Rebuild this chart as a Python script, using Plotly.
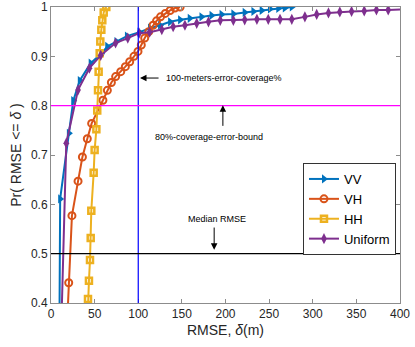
import plotly.graph_objects as go

# CDF curves (RMSE in metres vs probability)
vv_x = [9.5, 10.5, 20.5, 25.5, 33, 45.5, 57.5, 64.5, 75, 87, 101.5, 113.5, 125, 136.5, 148,
        159, 172.5, 184, 195.5, 209, 222, 232, 241.5, 251, 260.5, 268, 276]
vv_y = [0.3, 0.611, 0.744, 0.81, 0.851, 0.886, 0.905, 0.92, 0.93, 0.941, 0.949, 0.957, 0.963,
        0.97, 0.974, 0.977, 0.98, 0.983, 0.985, 0.986, 0.989, 0.991, 0.993, 0.996, 0.997, 0.998, 1.0]

vh_x = [17, 20.3, 24, 31, 36, 41.6, 46.6, 59.5, 64.6, 69.2, 74.1, 79.9, 85.2, 90.2, 95.1,
        99.7, 103.5, 107.4, 112, 117, 121, 125.5, 131, 136.5, 142, 148]
vh_y = [0.3, 0.441, 0.577, 0.647, 0.696, 0.733, 0.764, 0.811, 0.831, 0.847, 0.859, 0.869, 0.879,
        0.889, 0.9, 0.91, 0.923, 0.937, 0.95, 0.963, 0.972, 0.98, 0.987, 0.993, 0.998, 1.0]

hh_x = [41.5, 42.4, 43.5, 44.7, 45.5, 46.2, 48.9, 50, 52, 53, 53.9, 54.6, 55.8, 56.5, 57.7,
        58.8, 60.4, 63.4]
hh_y = [0.35, 0.408, 0.445, 0.487, 0.532, 0.587, 0.664, 0.71, 0.752, 0.79, 0.831, 0.869, 0.906,
        0.93, 0.954, 0.973, 0.989, 1.0]

uni_x = [11, 17.5, 31, 44, 57, 74, 88, 101, 113, 127, 140, 153.5, 167, 180.5, 194, 209, 222,
         236, 249, 262.5, 276, 291, 304.5, 318, 331, 344.5, 359, 373, 386.5, 413.5]
uni_y = [0.3, 0.724, 0.832, 0.876, 0.902, 0.927, 0.937, 0.947, 0.949, 0.954, 0.96, 0.963, 0.967,
         0.97, 0.973, 0.973, 0.974, 0.975, 0.975, 0.975, 0.975, 0.98, 0.985, 0.988, 0.99, 0.991,
         0.992, 0.994, 0.994, 0.996]

coverage_x = 100
bound_y = 0.8
median_y = 0.5

FONT = "Liberation Sans, Arial, sans-serif"
TXT = "#262626"

fig = go.Figure()
fig.add_trace(go.Scatter(x=vv_x, y=vv_y, name="VV", mode="lines+markers",
                         line=dict(color="#0072BD", width=2),
                         marker=dict(symbol="triangle-right", size=8, color="#0072BD")))
fig.add_trace(go.Scatter(x=vh_x, y=vh_y, name="VH", mode="lines+markers",
                         line=dict(color="#D95319", width=2),
                         marker=dict(symbol="circle-open", size=7, color="#D95319",
                                     line=dict(width=2))))
fig.add_trace(go.Scatter(x=hh_x, y=hh_y, name="HH", mode="lines+markers",
                         line=dict(color="#EDB120", width=2),
                         marker=dict(symbol="square-open", size=6, color="#EDB120",
                                     line=dict(width=2.5))))
fig.add_trace(go.Scatter(x=uni_x, y=uni_y, name="Uniform", mode="lines+markers",
                         line=dict(color="#7E2F8E", width=2),
                         marker=dict(symbol="diamond-tall", size=8, color="#7E2F8E")))

# reference lines
fig.add_shape(type="line", x0=coverage_x, x1=coverage_x, y0=0, y1=1, yref="paper",
              line=dict(color="#0000FF", width=1.2))
fig.add_shape(type="line", x0=0, x1=1, xref="paper", y0=bound_y, y1=bound_y,
              line=dict(color="#FF00FF", width=1.2))
fig.add_shape(type="line", x0=0, x1=1, xref="paper", y0=median_y, y1=median_y,
              line=dict(color="#000000", width=1.2))

afont = dict(family=FONT, size=9, color="#000000")
arrow = dict(showarrow=True, arrowhead=2, arrowsize=1.3, arrowwidth=1, arrowcolor="#000000",
             axref="x", ayref="y", text="")
fig.add_annotation(x=102, y=0.856, ax=125, ay=0.856, **arrow)
fig.add_annotation(x=130, y=0.856, text="100-meters-error-coverage%", showarrow=False,
                   xanchor="left", font=afont)
fig.add_annotation(x=197, y=0.801, ax=197, ay=0.756, **arrow)
fig.add_annotation(x=181, y=0.737, text="80%-coverage-error-bound", showarrow=False, font=afont)
fig.add_annotation(x=187, y=0.508, ax=187, ay=0.556, **arrow)
fig.add_annotation(x=190, y=0.57, text="Median RMSE", showarrow=False, font=afont)

axis = dict(showgrid=False, zeroline=False, showline=True, linecolor="#8c8c8c", linewidth=1,
            mirror="ticks", ticks="inside", ticklen=4, tickcolor="#8c8c8c", automargin=False,
            tickfont=dict(family=FONT, size=12, color=TXT))
fig.update_xaxes(range=[0, 400], tickvals=[0, 50, 100, 150, 200, 250, 300, 350, 400],
                 title=dict(text="RMSE, <i>δ</i>(m)", font=dict(family=FONT, size=14, color=TXT),
                            standoff=4), **axis)
fig.update_yaxes(range=[0.4, 1], tickvals=[0.4, 0.5, 0.6, 0.7, 0.8, 0.9, 1],
                 ticktext=["0.4", "0.5", "0.6", "0.7", "0.8", "0.9", "1"],
                 title=dict(text="Pr( RMSE <= <i>δ</i> )", font=dict(family=FONT, size=14, color=TXT),
                            standoff=6), **axis)

fig.update_layout(
    width=415, height=347,
    margin=dict(l=51, r=15, t=7, b=44),
    plot_bgcolor="white", paper_bgcolor="white",
    font=dict(family=FONT, color=TXT),
    legend=dict(x=0.722, y=0.473, xanchor="left", yanchor="top",
                bgcolor="white", bordercolor="#333333", borderwidth=1,
                font=dict(family=FONT, size=13, color="#000000"),
                tracegroupgap=0, itemwidth=30),
    showlegend=True,
)

# drop the default page margin so the figure fills the window exactly
fig.write_html("out.html", config={"displayModeBar": False},
               post_script="document.body.style.margin='0';")
